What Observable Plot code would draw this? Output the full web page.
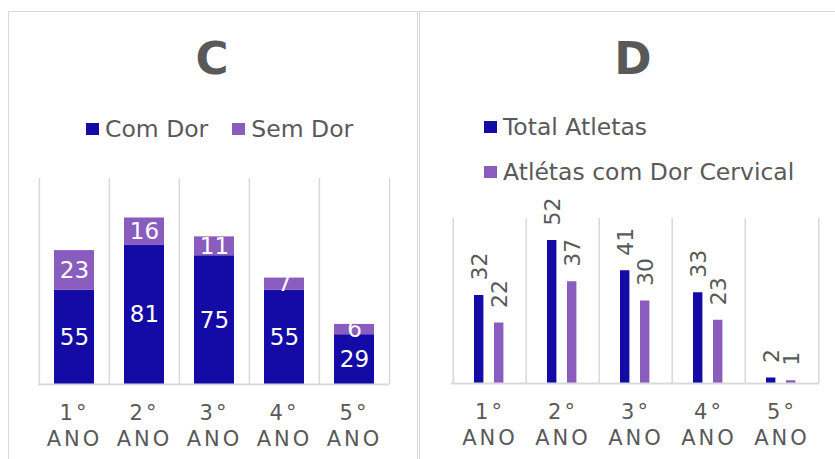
<!DOCTYPE html>
<html>
<head>
<meta charset="utf-8">
<script src="https://cdn.jsdelivr.net/npm/d3@7"></script>
<script src="https://cdn.jsdelivr.net/npm/@observablehq/plot@0.6"></script>
<style>
  html, body { margin: 0; padding: 0; background: #fff; }
  #root { position: relative; width: 835px; height: 459px; overflow: hidden; font-family: "DejaVu Sans", sans-serif; color: #595959; }
  .panel { position: absolute; border: 1.5px solid #d9d9d9; box-sizing: border-box; }
  .title { position: absolute; width: 200px; text-align: center; font-weight: bold; font-size: 45px; line-height: 50px; color: #595959; }
  .legend { position: absolute; font-size: 23.5px; line-height: 26px; color: #595959; white-space: nowrap; }
  .legend .item { display: inline-flex; align-items: center; }
  .legend .sw { display: inline-block; width: 13px; height: 12px; margin-right: 6px; }
  .chart { position: absolute; }
  g[aria-label="x-axis tick label"] text { letter-spacing: 3px; }
</style>
</head>
<body>
<div id="root">
  <div class="panel" style="left:8px; top:11px; width:410px; height:470px;"></div>
  <div class="panel" style="left:419px; top:11px; width:440px; height:470px;"></div>
  <div class="title" style="left:112px; top:34px;">C</div>
  <div class="title" style="left:533px; top:34px;">D</div>
  <div class="legend" id="legC" style="left:86px; top:114px;"></div>
  <div class="legend" id="legD" style="left:484px; top:114px;"></div>
  <div class="chart" id="chartC" style="left:0px; top:160px;"></div>
  <div class="chart" id="chartD" style="left:420px; top:160px;"></div>
</div>
<script>
// ---- data ----
const years = ["1°", "2°", "3°", "4°", "5°"];
const tickSuffix = "ANO";
const seriesC = ["Com Dor", "Sem Dor"];
const comDor = [55, 81, 75, 55, 29];
const semDor = [23, 16, 11, 7, 6];
const seriesD = ["Total Atletas", "Atlétas com Dor Cervical"];
const totalAtletas = [32, 52, 41, 33, 2];
const atletasDor = [22, 37, 30, 23, 1];

const blue = "#140AA6";
const purple = "#8A5CBE";
const grid = "#d9d9d9";
const textGray = "#595959";
const font = "DejaVu Sans, sans-serif";

// ---- legends ----
function legend(el, names, colors, vertical) {
  names.forEach((n, i) => {
    const it = document.createElement("div");
    it.className = "item";
    if (vertical) { it.style.display = "flex"; it.style.marginBottom = i === 0 ? "19px" : "0"; }
    else if (i > 0) it.style.marginLeft = "24px";
    const sw = document.createElement("span");
    sw.className = "sw"; sw.style.background = colors[i];
    it.appendChild(sw);
    it.appendChild(document.createTextNode(n));
    el.appendChild(it);
  });
}
legend(document.getElementById("legC"), seriesC, [blue, purple], false);
legend(document.getElementById("legD"), seriesD, [blue, purple], true);

// ---- chart C ----
const cData = years.flatMap((y, i) => [
  {year: y, serie: seriesC[0], value: comDor[i]},
  {year: y, serie: seriesC[1], value: semDor[i]}
]);
const cW = 418, cML = 38, cMR = 29;
const cBand = (cW - cML - cMR) / years.length;
const chartC = Plot.plot({
  width: cW, height: 300,
  marginLeft: cML, marginRight: cMR, marginTop: 18, marginBottom: 76,
  x: {domain: years, padding: 0, label: null, axis: null},
  y: {domain: [0, 120], axis: null},
  color: {domain: seriesC, range: [blue, purple]},
  style: {fontFamily: font, background: "transparent", overflow: "visible"},
  marks: [
    Plot.ruleX(years, {x: d => d, y1: 0, y2: 120, dx: -cBand / 2, stroke: grid, strokeWidth: 1.5}),
    Plot.ruleX(years.slice(-1), {x: d => d, y1: 0, y2: 120, dx: cBand / 2, stroke: grid, strokeWidth: 1.5}),
    Plot.barY(cData, Plot.stackY({x: "year", y: "value", fill: "serie", insetLeft: 15, insetRight: 15})),
    Plot.text(cData, Plot.stackY({x: "year", y: "value", z: "serie", text: d => String(d.value), fill: "white", fontSize: 23})),
    Plot.ruleY([0], {stroke: grid, strokeWidth: 2}),
    Plot.axisX({tickSize: 0, tickPadding: 18, tickFormat: d => d + "\n" + tickSuffix, fontSize: 21, fill: textGray, lineHeight: 1.2, label: null})
  ]
});
document.getElementById("chartC").appendChild(chartC);

// ---- chart D ----
const dData1 = years.map((y, i) => ({year: y, value: totalAtletas[i]}));
const dData2 = years.map((y, i) => ({year: y, value: atletasDor[i]}));
const dW = 415, dML = 31, dMR = 16;
const dBand = (dW - dML - dMR) / years.length;
const chartD = Plot.plot({
  width: dW, height: 300,
  marginLeft: dML, marginRight: dMR, marginTop: 58, marginBottom: 77,
  x: {domain: years, padding: 0, label: null, axis: null},
  y: {domain: [0, 60], axis: null},
  style: {fontFamily: font, background: "transparent", overflow: "visible"},
  marks: [
    Plot.ruleX(years, {x: d => d, y1: 0, y2: 60, dx: -dBand / 2, stroke: grid, strokeWidth: 1.5}),
    Plot.ruleX(years.slice(-1), {x: d => d, y1: 0, y2: 60, dx: dBand / 2, stroke: grid, strokeWidth: 1.5}),
    Plot.barY(dData1, {x: "year", y: "value", fill: blue, insetLeft: 21, insetRight: dBand - 31}),
    Plot.barY(dData2, {x: "year", y: "value", fill: purple, insetLeft: 41, insetRight: dBand - 51}),
    Plot.text(dData1, {x: "year", y: "value", text: d => String(d.value), rotate: -90, textAnchor: "start", lineAnchor: "middle", dx: -10, dy: -15, fill: textGray, fontSize: 22}),
    Plot.text(dData2, {x: "year", y: "value", text: d => String(d.value), rotate: -90, textAnchor: "start", lineAnchor: "middle", dx: 10, dy: -15, fill: textGray, fontSize: 22}),
    Plot.ruleY([0], {stroke: grid, strokeWidth: 2}),
    Plot.axisX({tickSize: 0, tickPadding: 18, tickFormat: d => d + "\n" + tickSuffix, fontSize: 21, fill: textGray, lineHeight: 1.2, label: null})
  ]
});
document.getElementById("chartD").appendChild(chartD);
</script>
</body>
</html>
